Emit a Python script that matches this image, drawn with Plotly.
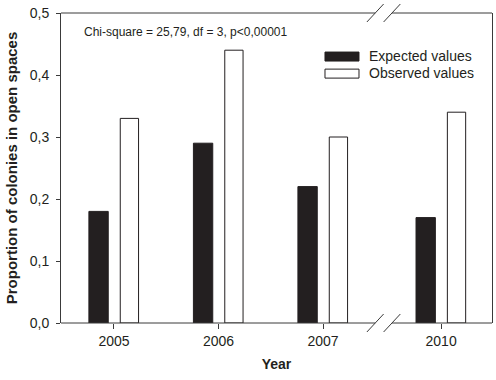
import plotly.graph_objects as go

years = ["2005", "2006", "2007", "2010"]
expected = [0.18, 0.29, 0.22, 0.17]
observed = [0.33, 0.44, 0.30, 0.34]
y_ticks = [0.0, 0.1, 0.2, 0.3, 0.4, 0.5]

# x positions: one unit per year, extra space after the axis break (2007 -> 2010)
break_extra = 0.13
xpos = [0, 1, 2, 3 + break_extra]
x_range = [-0.507, 3.617]
break_lo, break_hi = 2.50, 2.66

ink = "#231f20"
line_col = "#3a3a3a"
font_family = "Liberation Sans, Arial, sans-serif"

fig = go.Figure()
fig.add_trace(go.Bar(
    x=xpos, y=expected, name="Expected values",
    width=0.185, offset=-0.24,
    marker=dict(color=ink, line=dict(color=ink, width=1)),
))
fig.add_trace(go.Bar(
    x=xpos, y=observed, name="Observed values",
    width=0.175, offset=0.06,
    marker=dict(color="white", line=dict(color=ink, width=1)),
))

shapes = []
# broken top and bottom frame lines
for yy in (0, 1):
    shapes.append(dict(type="line", xref="x", yref="paper", x0=x_range[0], x1=break_lo,
                       y0=yy, y1=yy, line=dict(color=line_col, width=1)))
    shapes.append(dict(type="line", xref="x", yref="paper", x0=break_hi, x1=x_range[1],
                       y0=yy, y1=yy, line=dict(color=line_col, width=1)))
    for xb in (break_lo, break_hi):
        shapes.append(dict(type="line", xref="x", yref="paper",
                           x0=xb - 0.08, x1=xb + 0.08, y0=yy - 0.029, y1=yy + 0.029,
                           line=dict(color=line_col, width=1)))

# custom legend with wide swatches
shapes.append(dict(type="rect", xref="paper", yref="paper", x0=0.6125, x1=0.6914,
                   y0=0.845, y1=0.874, fillcolor=ink, line=dict(color=ink, width=1)))
shapes.append(dict(type="rect", xref="paper", yref="paper", x0=0.6125, x1=0.6914,
                   y0=0.790, y1=0.819, fillcolor="white", line=dict(color=ink, width=1)))

annotations = [
    dict(text="Chi-square = 25,79, df = 3, p<0,00001", xref="paper", yref="paper",
         x=0.049, y=0.939, xanchor="left", yanchor="middle", showarrow=False,
         font=dict(size=12, color=ink, family=font_family)),
    dict(text="Expected values", xref="paper", yref="paper", x=0.71, y=0.860,
         xanchor="left", yanchor="middle", showarrow=False,
         font=dict(size=14, color=ink, family=font_family)),
    dict(text="Observed values", xref="paper", yref="paper", x=0.71, y=0.805,
         xanchor="left", yanchor="middle", showarrow=False,
         font=dict(size=14, color=ink, family=font_family)),
]

fig.update_layout(
    width=496, height=380,
    margin=dict(l=61, r=4, t=13, b=57),
    paper_bgcolor="white", plot_bgcolor="white",
    barmode="overlay",
    showlegend=False,
    separators=", ",
    font=dict(family=font_family, size=14, color=ink),
    shapes=shapes,
    annotations=annotations,
    xaxis=dict(
        range=x_range, tickvals=xpos, ticktext=years,
        showline=False, showgrid=False, zeroline=False, automargin=False,
        ticks="outside", ticklen=5, tickcolor=line_col, tickwidth=1,
        tickfont=dict(size=14),
        title=dict(text="<b>Year</b>", font=dict(size=14), standoff=11),
    ),
    yaxis=dict(
        range=[0, 0.5], tickvals=y_ticks, tickformat=".1f",
        showline=True, linecolor=line_col, linewidth=1, mirror=True,
        showgrid=False, zeroline=False, automargin=False,
        ticks="outside", ticklen=4, tickcolor=line_col, tickwidth=1,
        tickfont=dict(size=14), ticklabelstandoff=4,
        title=dict(text="<b>Proportion of colonies in open spaces</b>", font=dict(size=15), standoff=8),
    ),
)

fig.write_html("out.html", config={"displayModeBar": False},
               post_script="document.body.style.margin='0';")
